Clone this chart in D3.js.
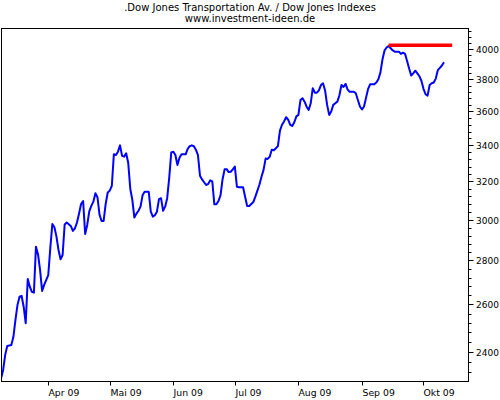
<!DOCTYPE html>
<html><head><meta charset="utf-8">
<script src="https://cdn.jsdelivr.net/npm/d3@7/dist/d3.min.js"></script>
<style>html,body{margin:0;padding:0;background:#fff}svg{display:block}</style>
</head><body><svg id="c" width="500" height="400"></svg>
<script>
const titleText = ".Dow Jones Transportation Av. / Dow Jones Indexes";
const subtitleText = "www.investment-ideen.de";

const dates = [
"2009-03-09","2009-03-10","2009-03-11","2009-03-12","2009-03-14","2009-03-15","2009-03-16","2009-03-17","2009-03-18","2009-03-19","2009-03-20","2009-03-21","2009-03-22","2009-03-23","2009-03-24","2009-03-25","2009-03-26","2009-03-27","2009-03-28","2009-03-29","2009-03-30",
"2009-04-01","2009-04-02","2009-04-03","2009-04-04","2009-04-05","2009-04-06","2009-04-07","2009-04-08","2009-04-09","2009-04-10","2009-04-12","2009-04-13","2009-04-14","2009-04-15","2009-04-16","2009-04-17","2009-04-18","2009-04-19","2009-04-20","2009-04-21","2009-04-22","2009-04-23","2009-04-24","2009-04-25","2009-04-26","2009-04-27","2009-04-28","2009-04-29","2009-04-30",
"2009-05-01","2009-05-02","2009-05-03","2009-05-04","2009-05-05","2009-05-06","2009-05-07","2009-05-08","2009-05-09","2009-05-10","2009-05-11","2009-05-12","2009-05-13","2009-05-14","2009-05-15","2009-05-16","2009-05-17","2009-05-18","2009-05-19","2009-05-20","2009-05-21","2009-05-22","2009-05-23","2009-05-24","2009-05-25","2009-05-26","2009-05-27","2009-05-28","2009-05-29","2009-05-30","2009-05-31",
"2009-06-01","2009-06-02","2009-06-03","2009-06-04","2009-06-05","2009-06-06","2009-06-07","2009-06-08","2009-06-09","2009-06-10","2009-06-11","2009-06-12","2009-06-13","2009-06-14","2009-06-15","2009-06-16","2009-06-17","2009-06-18","2009-06-19","2009-06-20","2009-06-21","2009-06-22","2009-06-23","2009-06-24","2009-06-25","2009-06-26","2009-06-27","2009-06-28","2009-06-29","2009-06-30",
"2009-07-01","2009-07-02","2009-07-03","2009-07-04","2009-07-05","2009-07-06","2009-07-07","2009-07-08","2009-07-09","2009-07-10","2009-07-11","2009-07-12","2009-07-13","2009-07-14","2009-07-15","2009-07-16","2009-07-17","2009-07-18","2009-07-19","2009-07-20","2009-07-21","2009-07-22","2009-07-23","2009-07-24","2009-07-25","2009-07-26","2009-07-27","2009-07-28","2009-07-29","2009-07-30","2009-07-31",
"2009-08-01","2009-08-02","2009-08-03","2009-08-04","2009-08-05","2009-08-06","2009-08-07","2009-08-08","2009-08-09","2009-08-10","2009-08-11","2009-08-12","2009-08-13","2009-08-14","2009-08-15","2009-08-16","2009-08-17","2009-08-18","2009-08-19","2009-08-20","2009-08-21","2009-08-22","2009-08-23","2009-08-24","2009-08-25","2009-08-26","2009-08-27","2009-08-28","2009-08-29","2009-08-30","2009-08-31",
"2009-09-01","2009-09-02","2009-09-03","2009-09-04","2009-09-05","2009-09-06","2009-09-07","2009-09-08","2009-09-09","2009-09-10","2009-09-11","2009-09-12","2009-09-13","2009-09-14","2009-09-15","2009-09-16","2009-09-17","2009-09-18","2009-09-19","2009-09-20","2009-09-21","2009-09-22","2009-09-23","2009-09-24","2009-09-25","2009-09-26","2009-09-27","2009-09-28","2009-09-29","2009-09-30",
"2009-10-01","2009-10-02","2009-10-03","2009-10-04","2009-10-05","2009-10-06","2009-10-07","2009-10-08","2009-10-09","2009-10-10","2009-10-11"
];

const values = [
2296,2328,2388,2424,2428,2462,2533,2598,2634,2638,2590,2519,2714,2679,2656,2652,2866,2830,2756,2660,2687,
2732,2860,2978,2961,2915,2850,2806,2826,2975,2985,2968,2943,2956,2985,3030,3080,3095,2928,2973,3042,3070,3092,3136,3115,3025,2993,2993,3080,3140,
3150,3175,3350,3345,3364,3400,3340,3336,3355,3300,3160,3101,3010,3030,3045,3066,3125,3144,3144,3144,3040,3015,3022,3040,3105,3110,3045,3066,3110,3220,3360,
3364,3345,3289,3330,3349,3349,3349,3380,3395,3400,3395,3375,3345,3230,3210,3195,3180,3186,3205,3200,3078,3078,3095,3125,3210,3265,3266,3250,3252,3265,
3280,3171,3168,3168,3168,3118,3069,3069,3080,3090,3118,3150,3183,3225,3262,3325,3323,3335,3375,3372,3383,3396,3485,3520,3540,3565,3550,3520,3513,3535,3570,
3579,3670,3681,3660,3629,3609,3650,3744,3716,3716,3730,3764,3775,3730,3640,3579,3600,3640,3650,3660,3700,3764,3752,3771,3735,3722,3722,3722,3712,3670,3630,
3612,3630,3685,3740,3769,3769,3769,3780,3801,3845,3930,3990,4010,4020,4005,3990,3982,3982,3982,3967,3975,3967,3920,3870,3825,3839,3856,3839,3820,3790,
3740,3706,3697,3764,3775,3780,3805,3860,3875,3890,3911
];

const highLineDates = ["2009-09-14","2009-10-15"];
const highLineValue = 4025;

const xDomain = ["2009-03-09","2009-10-23"];
const yDomain = [2285, 4144];
const monthTicks = ["2009-04-01","2009-05-01","2009-06-01","2009-07-01","2009-08-01","2009-09-01","2009-10-01"];
const monthLabels = ["Apr 09","Mai 09","Jun 09","Jul 09","Aug 09","Sep 09","Okt 09"];
const yMajorTicks = [2400,2600,2800,3000,3200,3400,3600,3800,4000];
const yMinorStep = 40;

const parse = d3.utcParse("%Y-%m-%d");
const svg = d3.select("#c");
const font = "'DejaVu Sans', Verdana, sans-serif";

const L = 1.5, R = 468.5, T = 28.5, B = 381.5;
const x = d3.scaleUtc().domain(xDomain.map(parse)).range([1.1, 468.6]);
const y = d3.scaleLog().domain(yDomain).range([381, 28]);

svg.append("rect").attr("width",500).attr("height",400).attr("fill","#fff");

svg.append("text").attr("x",250).attr("y",10.5).attr("text-anchor","middle")
  .attr("font-family",font).attr("font-size",10).attr("fill","#000").text(titleText);
svg.append("text").attr("x",250).attr("y",21.5).attr("text-anchor","middle")
  .attr("font-family",font).attr("font-size",10).attr("fill","#000").text(subtitleText);

svg.append("defs").append("clipPath").attr("id","clip").append("rect")
  .attr("x",L).attr("y",T).attr("width",R-L).attr("height",B-T);

const pts = dates.map((d,i)=>({d:parse(d), v:values[i]}));
const line = d3.line().x(p=>x(p.d)).y(p=>y(p.v));

const g = svg.append("g").attr("clip-path","url(#clip)");
g.append("path").datum(pts).attr("d",line).attr("fill","none")
  .attr("stroke","#0000ff").attr("stroke-width",2).attr("stroke-linejoin","round");
g.append("path").datum(highLineDates.map(d=>({d:parse(d), v:highLineValue})))
  .attr("d",line).attr("fill","none").attr("stroke","#ff0000").attr("stroke-width",3.5);

svg.append("rect").attr("x",L).attr("y",T).attr("width",R-L).attr("height",B-T)
  .attr("fill","none").attr("stroke","#000").attr("stroke-width",1);

// bottom axis
const xa = svg.append("g");
monthTicks.forEach((m,i)=>{
  const px = Math.round(x(parse(m)))+0.5;
  xa.append("line").attr("x1",px).attr("x2",px).attr("y1",B).attr("y2",B+4).attr("stroke","#000");
  xa.append("text").attr("x",px).attr("y",396).attr("font-family",font).attr("font-size",9.3)
    .attr("fill","#000").text(monthLabels[i]);
});

// right axis
const ya = svg.append("g");
const minor = d3.range(Math.ceil(yDomain[0]/yMinorStep)*yMinorStep, yDomain[1], yMinorStep)
  .filter(v=>yMajorTicks.indexOf(v)<0);
minor.forEach(v=>{
  const py = Math.round(y(v))+0.5;
  ya.append("line").attr("x1",R).attr("x2",R+3).attr("y1",py).attr("y2",py).attr("stroke","#000");
});
yMajorTicks.forEach(v=>{
  const py = Math.round(y(v))+0.5;
  ya.append("line").attr("x1",R).attr("x2",R+5).attr("y1",py).attr("y2",py).attr("stroke","#000");
  ya.append("text").attr("x",476).attr("y",py).attr("dy","0.35em").attr("font-family",font)
    .attr("font-size",9).attr("fill","#000").text(v);
});
</script></body></html>
